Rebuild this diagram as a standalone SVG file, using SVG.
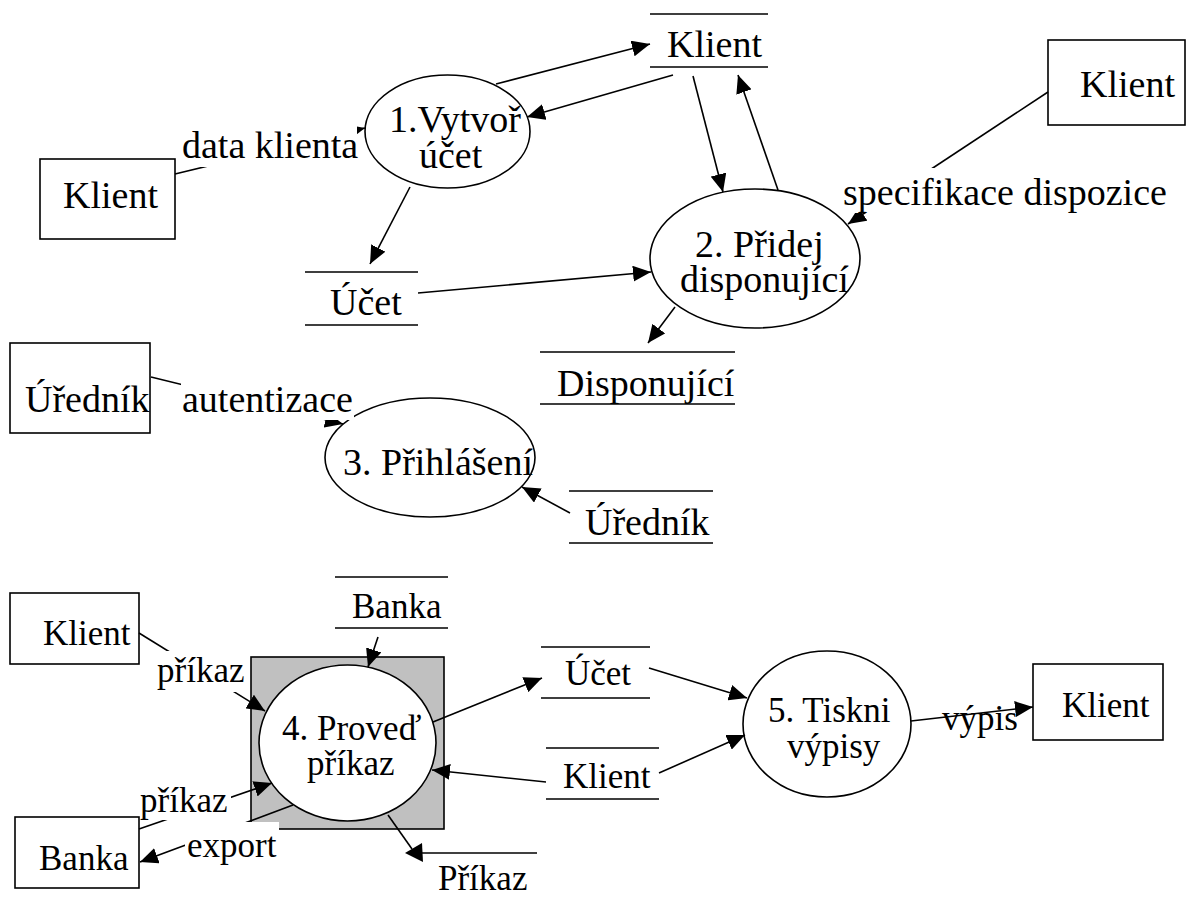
<svg xmlns="http://www.w3.org/2000/svg" width="1186" height="897" viewBox="0 0 1186 897">
  <style>
    text { font-family: "Liberation Serif", "Times New Roman", serif; fill: #000; }
    .t38 { font-size: 38px; }
    .t35 { font-size: 35px; }
    .box { fill: #fff; stroke: #000; stroke-width: 1.6; }
    .proc { fill: #fff; stroke: #000; stroke-width: 1.6; }
    .store { stroke: #000; stroke-width: 1.6; fill: none; }
    .flow { stroke: #000; stroke-width: 1.6; fill: none; marker-end: url(#arrow); }
    .plain { stroke: #000; stroke-width: 1.6; fill: none; }
    .lblbg { fill: #fff; stroke: none; }
  </style>
  <defs>
    <marker id="arrow" markerUnits="userSpaceOnUse" markerWidth="18" markerHeight="16" refX="18" refY="8" orient="auto">
      <path d="M0,0 L18,8 L0,16 z" fill="#000"/>
    </marker>
  </defs>

  <!-- external entities -->
  <g id="ent-klient-left"><rect class="box" x="40" y="159" width="135" height="80"/><text class="t38" x="63" y="208">Klient</text></g>
  <g id="ent-klient-topright"><rect class="box" x="1048" y="40" width="137" height="85"/><text class="t38" x="1080" y="97">Klient</text></g>
  <g id="ent-urednik"><rect class="box" x="10" y="343" width="140" height="90"/><text class="t38" x="25" y="412">Úředník</text></g>
  <g id="ent-klient-bl"><rect class="box" x="10" y="593" width="129" height="71"/><text class="t35" x="43" y="645">Klient</text></g>
  <g id="ent-banka"><rect class="box" x="15" y="817" width="124" height="71"/><text class="t35" x="39" y="870">Banka</text></g>
  <g id="ent-klient-br"><rect class="box" x="1033" y="664" width="130" height="76"/><text class="t35" x="1062" y="717">Klient</text></g>

  <!-- data stores -->
  <g id="store-klient-top"><path class="store" d="M650,14 H768 M650,67 H768"/><text class="t38" x="667" y="57">Klient</text></g>
  <g id="store-ucet-top"><path class="store" d="M305,272 H418 M305,325 H418"/><text class="t38" x="330" y="315">Účet</text></g>
  <g id="store-disponujici"><path class="store" d="M540,352 H735 M540,404 H735"/><text class="t38" x="557" y="396">Disponující</text></g>
  <g id="store-urednik"><path class="store" d="M569,491 H713 M569,543 H713"/><text class="t38" x="585" y="535">Úředník</text></g>
  <g id="store-banka"><path class="store" d="M335,577 H448 M335,628 H448"/><text class="t35" x="352" y="618">Banka</text></g>
  <g id="store-ucet-bottom"><path class="store" d="M541,647 H650 M541,698 H650"/><text class="t35" x="565" y="685">Účet</text></g>
  <g id="store-klient-bottom"><path class="store" d="M546,748 H659 M546,799 H659"/><text class="t35" x="563" y="788">Klient</text></g>
  <g id="store-prikaz"><path class="store" d="M418,853 H537"/><text class="t35" x="438" y="890">Příkaz</text></g>

  <!-- processes -->
  <g id="proc-1"><ellipse class="proc" cx="447.5" cy="131.5" rx="82.5" ry="56.5"/><text class="t38" x="389" y="132">1.Vytvoř</text><text class="t38" x="419" y="168">účet</text></g>
  <g id="proc-2"><ellipse class="proc" cx="755" cy="258.5" rx="105" ry="69.5"/><text class="t38" x="695" y="257">2. Přidej</text><text class="t38" x="680" y="292">disponující</text></g>
  <g id="proc-3"><ellipse class="proc" cx="430" cy="457.5" rx="105" ry="59.5"/><text class="t38" x="343" y="475">3. Přihlášení</text></g>
  <g id="proc-4"><rect x="251" y="657" width="193" height="172" fill="#c0c0c0" stroke="#000" stroke-width="1.6"/><ellipse class="proc" cx="347.5" cy="743" rx="88.5" ry="78"/><text class="t35" x="282" y="740">4. Proveď</text><text class="t35" x="307" y="775">příkaz</text></g>
  <g id="proc-5"><ellipse class="proc" cx="827" cy="724" rx="84" ry="73"/><text class="t35" x="768" y="722">5. Tiskni</text><text class="t35" x="787" y="758">výpisy</text></g>

  <!-- flows -->
  <g id="connectors">
    <path class="flow" d="M496,84 L650,44"/>
    <path class="flow" d="M673,75 L527,117"/>
    <path class="flow" d="M693,76 L723,192"/>
    <path class="flow" d="M778,190 L738,75"/>
    <path class="flow" d="M410,187 L370,264"/>
    <path class="flow" d="M418,293 L651,272"/>
    <path class="flow" d="M675,307 L648,343"/>
    <path class="flow" d="M570,513 L522,487"/>
    <path class="flow" d="M175,174 L365,128"/>
    <path class="flow" d="M151,377 L343,424"/>
    <path class="flow" d="M1048,92 L848,224"/>
    <path class="flow" d="M378,637 L368,667"/>
    <path class="flow" d="M433,722 L542,678"/>
    <path class="flow" d="M546,782 L432,770"/>
    <path class="flow" d="M649,668 L747,698"/>
    <path class="flow" d="M659,773 L745,735"/>
    <path class="flow" d="M911,721 L1033,707"/>
    <path class="flow" d="M139,633 L265,711"/>
    <path class="flow" d="M139,829 L272,783"/>
    <path class="flow" d="M293,805 L140,862"/>
    <path class="plain" d="M388,815 L412,849"/>
    <polygon points="405,853 422,843 423,862" fill="#000"/>
  </g>

  <!-- flow labels -->
  <g id="labels">
    <rect class="lblbg" x="181" y="124" width="176" height="43"/>
    <text class="t38" x="182" y="158">data klienta</text>
    <rect class="lblbg" x="842" y="168" width="328" height="45"/>
    <text class="t38" x="843" y="205">specifikace dispozice</text>
    <rect class="lblbg" x="181" y="379" width="173" height="41"/>
    <text class="t38" x="182" y="412">autentizace</text>
    <rect class="lblbg" x="156" y="651" width="90" height="41"/>
    <text class="t35" x="157" y="682">příkaz</text>
    <rect class="lblbg" x="140" y="780" width="91" height="40"/>
    <text class="t35" x="140" y="812">příkaz</text>
    <rect class="lblbg" x="185" y="822" width="94" height="44"/>
    <text class="t35" x="187" y="857">export</text>
    <text class="t35" x="942" y="730">výpis</text>
  </g>
</svg>
